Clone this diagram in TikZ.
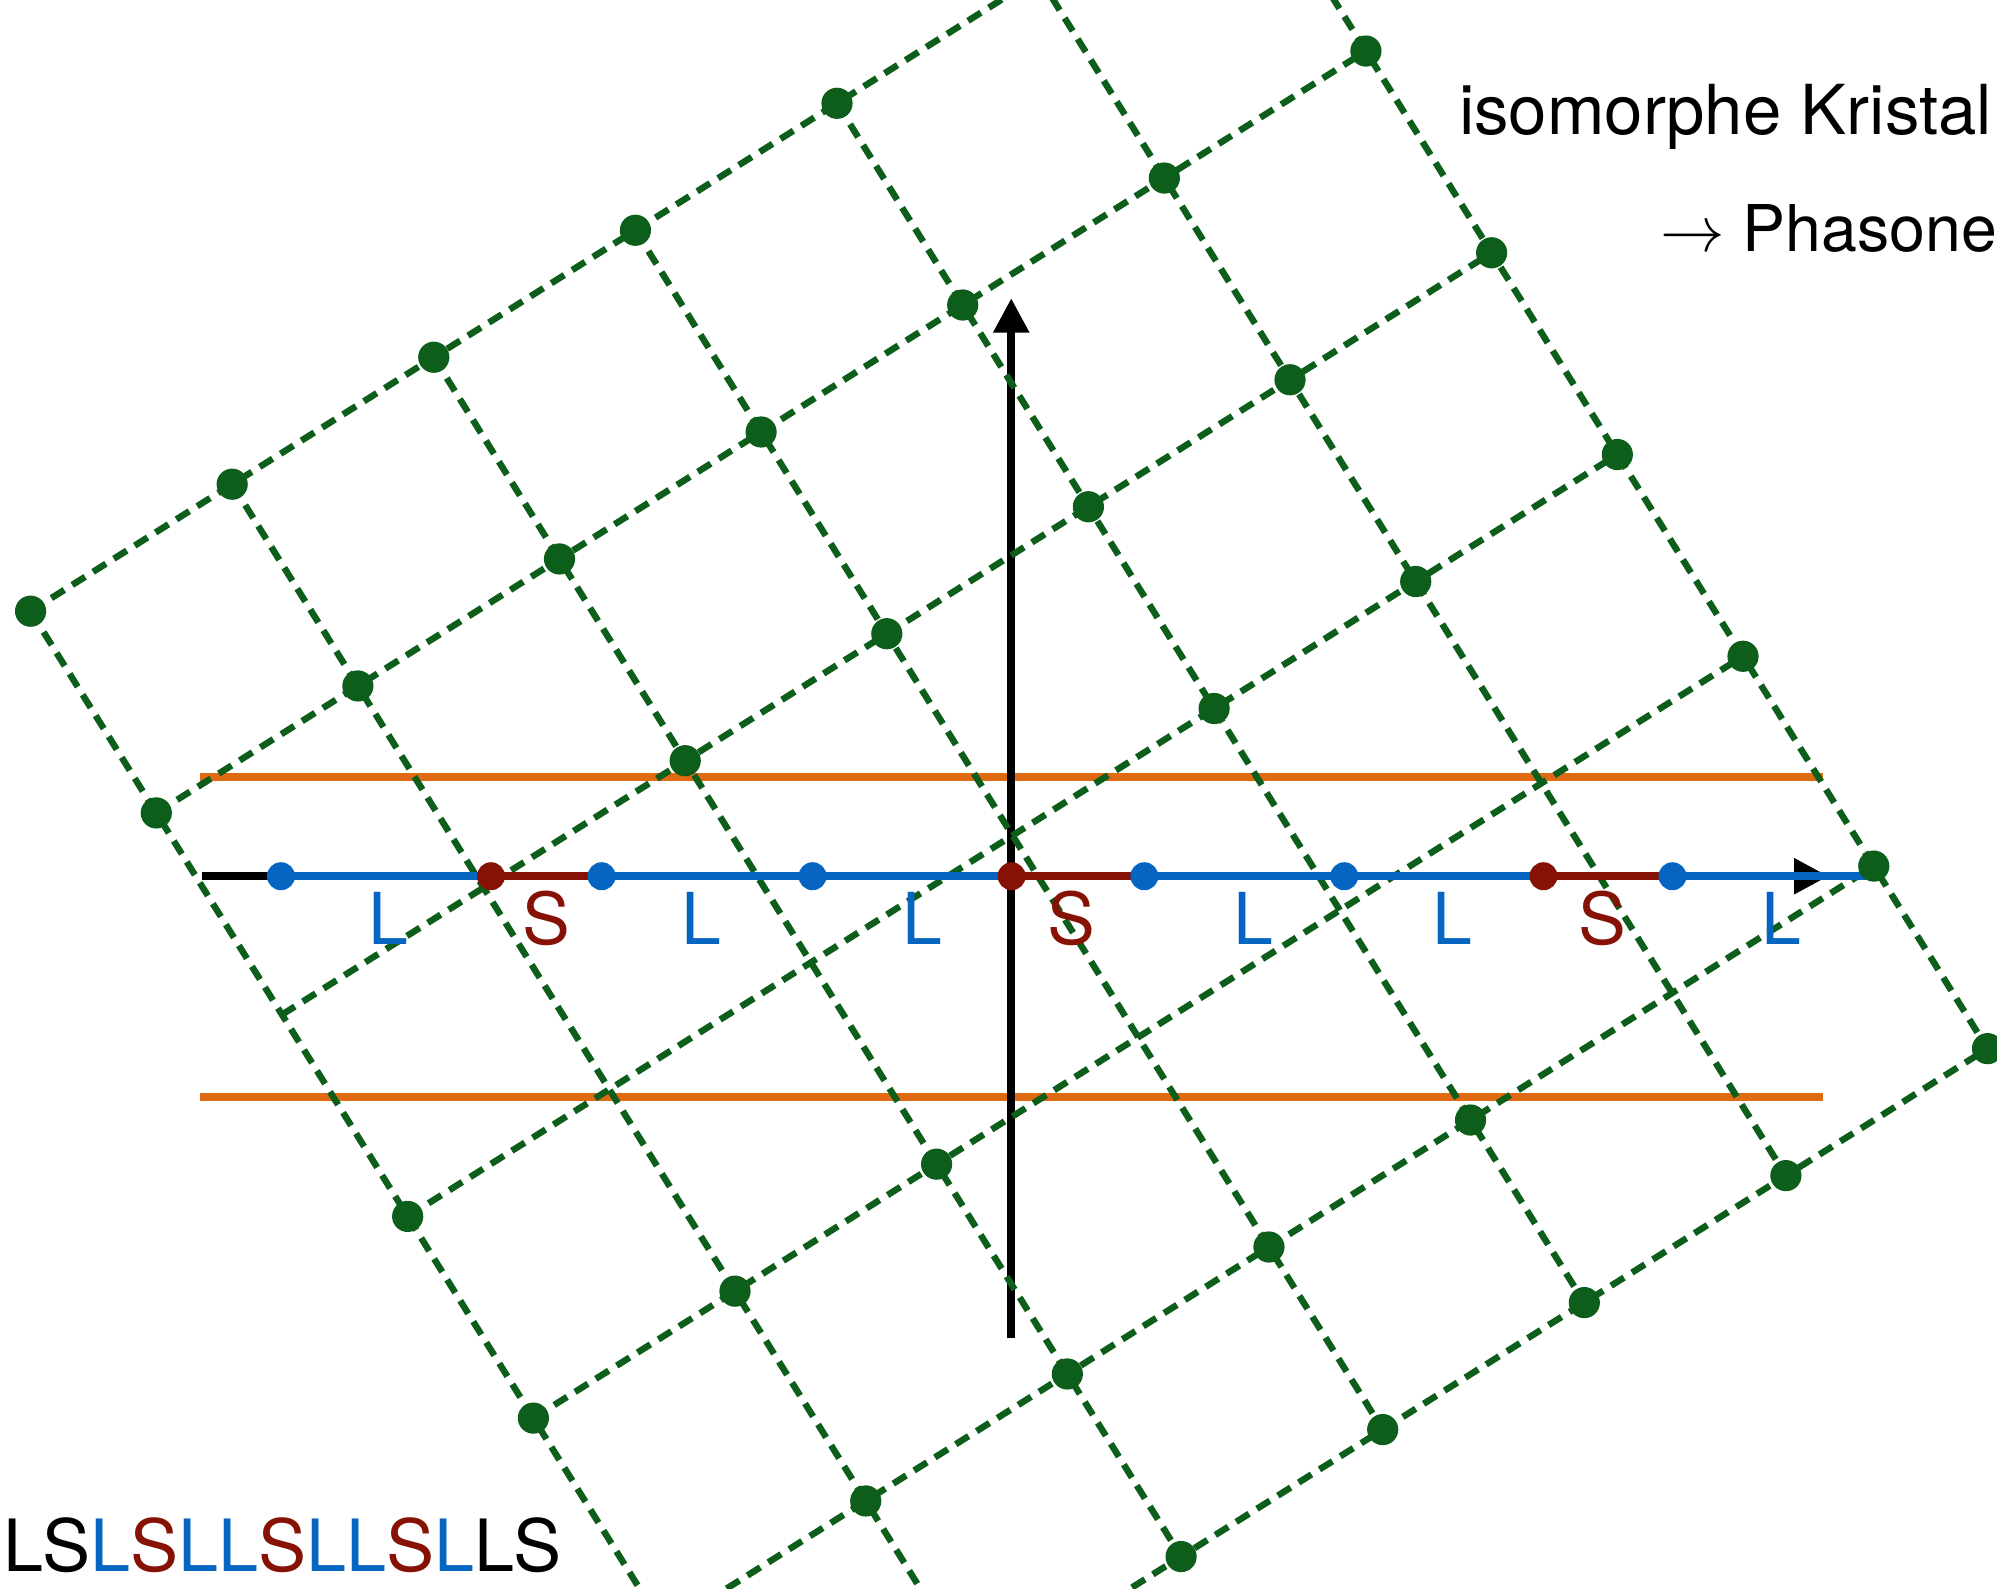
\documentclass[tikz,border=0pt]{standalone}
\usepackage{fontspec}
\setmainfont{TeX Gyre Heros}
\usetikzlibrary{arrows.meta}
\definecolor{gridgreen}{RGB}{13,94,27}
\definecolor{lblue}{RGB}{5,101,192}
\definecolor{sred}{RGB}{133,18,5}
\definecolor{winorange}{RGB}{223,106,18}

\begin{document}
\begin{tikzpicture}[x=0.1mm,y=-0.1mm,>={Triangle[length=2.7mm,width=2.7mm]},
  lattice/.style={shift={(795,656)},x={(15.83mm,9.97mm)},y={(9.87mm,-15.84mm)}},
  gridline/.style={gridgreen,line width=1.45pt,dash pattern=on 3.4pt off 2.1pt},
  gridpt/.style={circle,fill=gridgreen,inner sep=0pt,minimum size=2.45mm},
  ldot/.style={circle,fill=lblue,inner sep=0pt,minimum size=2.2mm},
  sdot/.style={ldot,fill=sred},
  lseg/.style={lblue,line width=1.85pt},
  sseg/.style={sred,line width=1.85pt},
  window/.style={winorange,line width=1.8pt},
  axisline/.style={line width=1.7pt,->},
  lab/.style={font=\fontsize{16}{19}\selectfont,anchor=base,inner sep=0pt}]
\useasboundingbox (0,0) rectangle (1568,1247);
\clip (0,0) rectangle (1568,1247);
\coordinate (xl) at (158.9,688);
\coordinate (xr) at (1435.6,688);
\coordinate (yb) at (794,1050.6);
\coordinate (yt) at (794,234.2);
\draw[window] (157,610.4) -- (1431,610.4);
\draw[window] (157,861.6) -- (1431,861.6);
\draw[axisline] (xl) -- (xr);
\draw[axisline] (yb) -- (yt);
\begin{scope}[lattice]
\foreach \jj in {-3,-2,-1,0,1,2.04,2.945}
  \draw[gridline] (-3,\jj) -- (3,\jj);
\foreach \k in {-3,...,3}
  \draw[gridline] (\k,-3) -- (\k,2.945);
\end{scope}
\foreach \n/\x in {1/220.6,2/385.5,3/472.4,4/638,5/794.3,6/898.5,7/1055.5,8/1211.9,9/1313.2,e/1474.8}
  \coordinate (p\n) at (\x,688);
\foreach \a/\b in {1/2,3/4,4/5,6/7,7/8,9/e}
  \draw[lseg] (p\a) -- (p\b);
\foreach \a/\b in {2/3,5/6,8/9}
  \draw[sseg] (p\a) -- (p\b);
\foreach \n in {1,3,4,6,7,9}
  \node[ldot] (d\n) at (p\n) {};
\foreach \n in {2,5,8}
  \node[sdot] (d\n) at (p\n) {};
\begin{scope}[lattice]
\foreach \j/\jj/\is in {-3/-3/{-3,...,3},-2/-2/{-3,...,3},-1/-1/{-1,...,3},0/0/{-3,1,2,3},1/1/{-3,-2,-1,3},2/2.04/{-3,-2,-1,0,1,3},3/2.945/{-3,...,3}}
  \foreach \i in \is
    \node[gridpt] (g\i\j) at (\i,\jj) {};
\end{scope}
\foreach \n/\x/\lt/\lc in {1/305/L/lblue,2/429/S/sred,3/551/L/lblue,4/724/L/lblue,5/841/S/sred,6/984/L/lblue,7/1140/L/lblue,8/1258.5/S/sred,9/1398.8/L/lblue}
  \node[lab,text=\lc] (t\n) at (\x,742) {\lt};
\node[anchor=base west,inner sep=0pt,font=\fontsize{15.4}{18}\selectfont] (iso) at (1145,106) {isomorphe Kristal};
\node[anchor=base west,inner sep=0pt,font=\fontsize{14.4}{18}\selectfont] (phason) at (1303,197.6) {$\rightarrow$ Phasone};
\node[anchor=base west,inner sep=0pt,font=\fontsize{16.1}{19}\selectfont] (seq) at (2,1234) {LS\textcolor{lblue}{L}\textcolor{sred}{S}\textcolor{lblue}{LL}\textcolor{sred}{S}\textcolor{lblue}{LL}\textcolor{sred}{S}\textcolor{lblue}{L}LS};
\end{tikzpicture}
\end{document}
